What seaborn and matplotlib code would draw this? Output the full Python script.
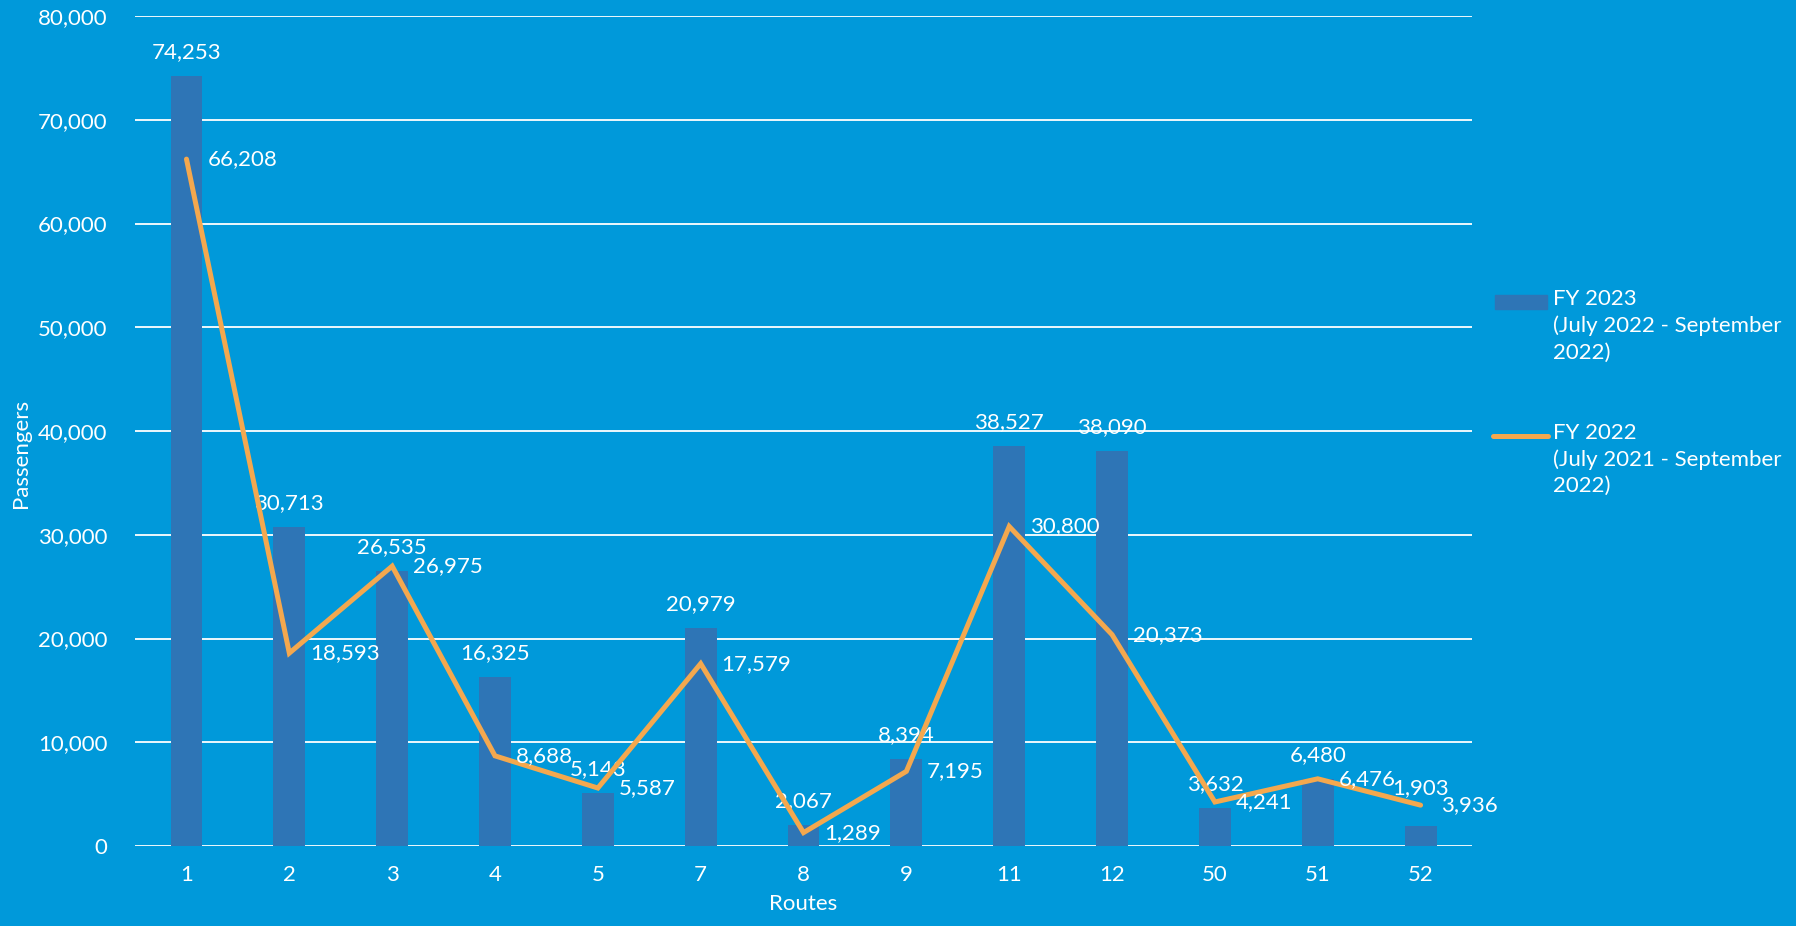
import matplotlib
matplotlib.use("Agg")
import matplotlib.pyplot as plt
import seaborn as sns
import numpy as np
from matplotlib.patches import Rectangle
from matplotlib.lines import Line2D
from matplotlib.ticker import FuncFormatter, MultipleLocator

routes = ["1", "2", "3", "4", "5", "7", "8", "9", "11", "12", "50", "51", "52"]
fy2023 = [74253, 30713, 26535, 16325, 5143, 20979, 2067, 8394, 38527, 38090, 3632, 6480, 1903]
fy2022 = [66208, 18593, 26975, 8688, 5587, 17579, 1289, 7195, 30800, 20373, 4241, 6476, 3936]
label_2023 = "FY 2023\n(July 2022 - September\n2022)"
label_2022 = "FY 2022\n(July 2021 - September\n2022)"

BG = "#0099DA"
BAR = "#2E75B6"
LINE = "#F4A84E"
WHITE = "white"

sns.set_theme(style="white")
plt.rcParams["font.family"] = ["Lato", "DejaVu Sans"]
FS = 16

fig = plt.figure(figsize=(17.96, 9.26), dpi=100, facecolor=BG)
ax = fig.add_axes([0.0752, 0.0864, 0.8196 - 0.0752, 0.9827 - 0.0864])
ax.set_facecolor(BG)

sns.barplot(x=routes, y=fy2023, order=routes, color=BAR, saturation=1,
            width=0.31, linewidth=0, edgecolor=BAR, ax=ax, zorder=3)
sns.pointplot(x=routes, y=fy2022, order=routes, color=LINE, markers="o",
              markersize=0, linewidth=3.6, errorbar=None, ax=ax, zorder=4)
for ln in ax.lines:
    ln.set_solid_capstyle("round")
    ln.set_solid_joinstyle("miter")

ax.set_ylim(0, 80000)
ax.set_xlim(-0.5, len(routes) - 0.5)
ax.yaxis.set_major_locator(MultipleLocator(10000))
ax.yaxis.set_major_formatter(FuncFormatter(lambda v, p: f"{int(v):,}"))
ax.grid(axis="y", color=WHITE, linewidth=1.3, zorder=0)
ax.set_axisbelow(True)
for s in ax.spines.values():
    s.set_visible(False)
ax.tick_params(axis="both", length=0, labelcolor=WHITE, labelsize=FS)
ax.tick_params(axis="y", pad=20)
ax.tick_params(axis="x", pad=14)
ax.set_xlabel("Routes", color=WHITE, fontsize=FS, labelpad=6)
ax.set_ylabel("Passengers", color=WHITE, fontsize=FS)
ax.yaxis.set_label_coords(-0.078, 0.473)

# bar labels
bar_texts = ax.bar_label(ax.containers[0], labels=[f"{v:,}" for v in fy2023],
                         padding=10, color=WHITE, fontsize=FS)
# the last label sits a little higher in the original
bar_texts[-1].xyann = (0, 20)

# line labels
for i, v in enumerate(fy2022):
    ax.annotate(f"{v:,}", xy=(i, v), xytext=(15, 0), textcoords="offset points",
                ha="left", va="center", color=WHITE, fontsize=FS, zorder=5)

# legend (manual)
ax.add_patch(Rectangle((1.017, 0.647), 0.039, 0.017, transform=ax.transAxes,
                       color=BAR, clip_on=False))
ax.text(1.0606, 0.671, label_2023, transform=ax.transAxes, ha="left", va="top",
        color=WHITE, fontsize=FS, linespacing=1.4)
ax.add_line(Line2D([1.016, 1.057], [0.494, 0.494], transform=ax.transAxes,
                   color=LINE, linewidth=3.6, solid_capstyle="round", clip_on=False))
ax.text(1.0606, 0.510, label_2022, transform=ax.transAxes, ha="left", va="top",
        color=WHITE, fontsize=FS, linespacing=1.4)

fig.savefig("out.png", dpi=100, facecolor=BG)
